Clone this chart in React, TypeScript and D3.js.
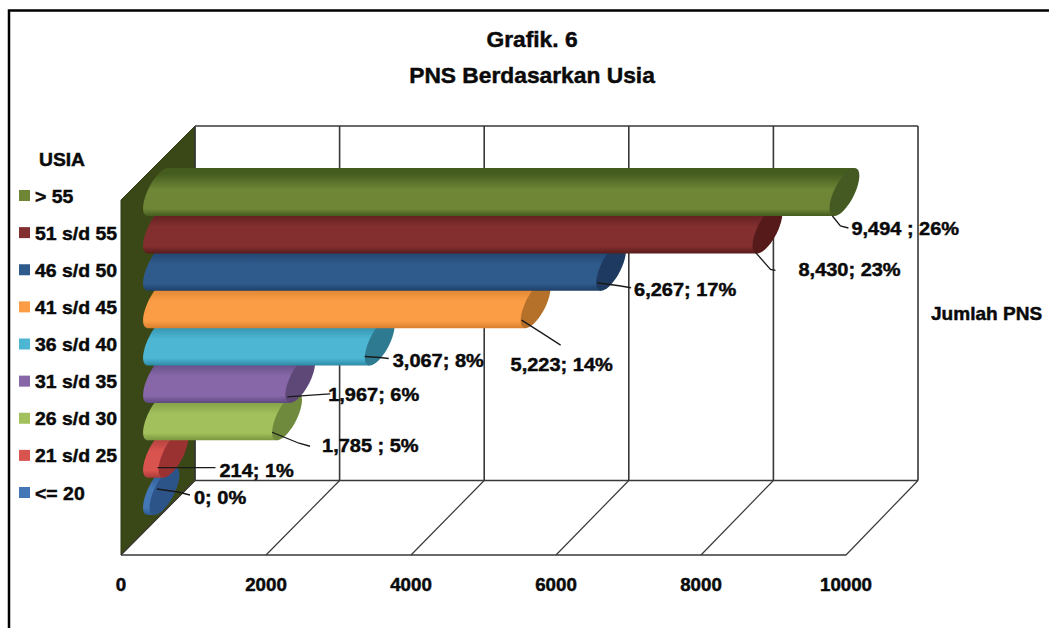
import React from "react";
import * as d3 from "d3";

const categories = ["<= 20", "21 s/d 25", "26 s/d 30", "31 s/d 35", "36 s/d 40", "41 s/d 45", "46 s/d 50", "51 s/d 55", "> 55"];
const values = [0, 214, 1785, 1967, 3067, 5223, 6267, 8430, 9494];
const labels = ["0; 0%", "214; 1%", "1,785 ; 5%", "1,967; 6%", "3,067; 8%", "5,223; 14%", "6,267; 17%", "8,430; 23%", "9,494 ; 26%"];
const xTicks = [0, 2000, 4000, 6000, 8000, 10000];
const litColors = ["#4477b5", "#d9534f", "#a2c05c", "#8767a8", "#4cb6d3", "#fb9d45", "#2f5a8c", "#832f2f", "#6e8636"];
const edgeColors = ["#2c5a92", "#a83c3a", "#7a963e", "#5f4a80", "#2f8aa5", "#d9812f", "#1f3f68", "#5a1c1c", "#445c1e"];
const capColors = ["#2c5488", "#9a3232", "#6f8a3c", "#5d4878", "#2e7a90", "#b5702a", "#1f3a60", "#561a1a", "#445a22"];
const title = ["Grafik. 6", "PNS Berdasarkan Usia"];
const legendTitle = "USIA";
const axisTitle = "Jumlah PNS";

// Leader and label layout relative to each bar's end
const leaderLayout = [
  { pts: [[-1, -26], [20, -23], [32, -20]], lx: 36, ly: -17 },
  { pts: [[-16, -10], [26, -10], [42, -10]], lx: 46, ly: -7 },
  { pts: [[-15, -8], [12, 3], [23, 6]], lx: 35, ly: 6 },
  { pts: [[-13, -6], [15, -8], [30, -9]], lx: 28, ly: -8 },
  { pts: [[-15, -9], [0, -8], [9, -7]], lx: 13, ly: -5 },
  { pts: [[-14, -8], [8, 6], [25, 17]], lx: -25, ly: 37 },
  { pts: [[-14, -8], [8, -5], [20, -3]], lx: 23, ly: -1 },
  { pts: [[-12, -1], [3, 16], [8, 17]], lx: 31, ly: 17 },
  { pts: [[-12, 0], [-4, 10], [4, 12]], lx: 7, ly: 13 },
];

const W = 1049, H = 628;
const FONT = "'Liberation Sans', Arial, sans-serif";

const x = d3.scaleLinear().domain([0, 10000]).range([158, 881]);
const frontX = d3.scaleLinear().domain([0, 10000]).range([121, 846]);
const backX = d3.scaleLinear().domain([0, 10000]).range([195, 918]);
const barBottom = d3.scaleLinear().domain([0, 8]).range([515, 216]);
const legendY = d3.scaleLinear().domain([0, 8]).range([493, 196]);
const wall = { top: 126, bottom: 480.5, frontTop: 200, frontBottom: 555 };
const BAR_H = 48, RX = 11, SHEAR = 0.42;

const ring = (cx: number, cy: number, from: number, to: number) =>
  d3.range(0, 41).map((k) => {
    const t = from + ((to - from) * k) / 40;
    return [cx + RX * Math.cos(t) + SHEAR * (BAR_H / 2) * Math.sin(t), cy - (BAR_H / 2) * Math.sin(t)] as [number, number];
  });
const line = d3.line();

function T({ x: tx, y, size = 18, sx = 1.08, anchor = "start", children }: any) {
  return (
    <text
      transform={`translate(${tx},${y}) scale(${sx},1)`}
      fontFamily={FONT}
      fontWeight="bold"
      fontSize={size}
      textAnchor={anchor}
      fill="#0a0a0a"
      stroke="#0a0a0a"
      strokeWidth={0.45}
    >
      {children}
    </text>
  );
}

export default function App() {
  const order = d3.range(categories.length);
  return (
    <svg width={W} height={H} viewBox={`0 0 ${W} ${H}`} style={{ position: "fixed", left: 0, top: 0, background: "#fff" }}>
      <defs>
        {order.map((i) => {
          const b = barBottom(i);
          return (
            <linearGradient key={i} id={`g${i}`} gradientUnits="userSpaceOnUse" x1={0} x2={0} y1={b - BAR_H} y2={b}>
              <stop offset="0" stopColor={edgeColors[i]} />
              <stop offset="0.12" stopColor={edgeColors[i]} />
              <stop offset="0.45" stopColor={litColors[i]} />
              <stop offset="0.85" stopColor={litColors[i]} />
              <stop offset="1" stopColor={edgeColors[i]} />
            </linearGradient>
          );
        })}
      </defs>

      <path d={`M9,628 V10.5 H1049`} fill="none" stroke="#000" strokeWidth={2.5} />

      {title.map((t, i) => (
        <T key={t} x={532} y={47 + i * 36} size={21.5} sx={1.06} anchor="middle">{t}</T>
      ))}

      {/* walls */}
      <path
        d={`M${frontX(0)},${wall.frontTop} L${backX(0)},${wall.top} V${wall.bottom} L${frontX(0)},${wall.frontBottom} Z`}
        fill="#3a4817"
        stroke="#2f3b12"
      />
      <g stroke="#383838" strokeWidth={1.6} fill="none">
        <path d={`M${backX(0)},${wall.top} H${backX(10000)}`} />
        <path d={`M${backX(0)},${wall.bottom} H${backX(10000)}`} />
        <path d={`M${frontX(0)},${wall.frontBottom} H${frontX(10000)}`} />
        {xTicks.map((v) => (
          <g key={v}>
            <path d={`M${backX(v)},${wall.top} V${wall.bottom}`} />
            <path d={`M${backX(v)},${wall.bottom} L${frontX(v)},${wall.frontBottom}`} strokeWidth={1.2} />
          </g>
        ))}
      </g>

      {/* cylinders */}
      {order.map((i) => {
        const b = barBottom(i);
        const cy = b - BAR_H / 2;
        const x0 = x(0);
        const x1 = x(Math.max(values[i], 90));
        const sh = SHEAR * (BAR_H / 2);
        const left = ring(x0, cy, Math.PI / 2, (3 * Math.PI) / 2);
        const body = [[x1 + sh, cy - BAR_H / 2] as [number, number], ...left, [x1 - sh, cy + BAR_H / 2] as [number, number]];
        return (
          <g key={i}>
            <path d={line(body) + "Z"} fill={`url(#g${i})`} />
            <path d={line(ring(x1, cy, 0, Math.PI * 2)) + "Z"} fill={capColors[i]} />
          </g>
        );
      })}

      {/* leaders and labels */}
      {order.map((i) => {
        const ex = x(values[i]);
        const b = barBottom(i);
        const l = leaderLayout[i];
        return (
          <g key={i}>
            <path
              d={line(l.pts.map(([dx, dy]) => [ex + dx, b + dy] as [number, number])) as string}
              fill="none"
              stroke="#1a1a1a"
              strokeWidth={1.3}
            />
            <T x={ex + l.lx} y={b + l.ly + 6} size={18} sx={1.11}>{labels[i]}</T>
          </g>
        );
      })}

      {/* legend */}
      <T x={39} y={166} size={18} sx={1.07}>{legendTitle}</T>
      {order.map((i) => (
        <g key={i}>
          <rect x={19} y={legendY(i) - 6} width={11} height={11} fill={litColors[i]} />
          <T x={35} y={legendY(i) + 6.5} size={18} sx={1.08}>{categories[i]}</T>
        </g>
      ))}

      {/* axis */}
      {xTicks.map((v) => (
        <T key={v} x={frontX(v)} y={591} size={17.5} sx={1.07} anchor="middle">{v}</T>
      ))}
      <T x={931} y={320} size={18} sx={1.06}>{axisTitle}</T>
    </svg>
  );
}
